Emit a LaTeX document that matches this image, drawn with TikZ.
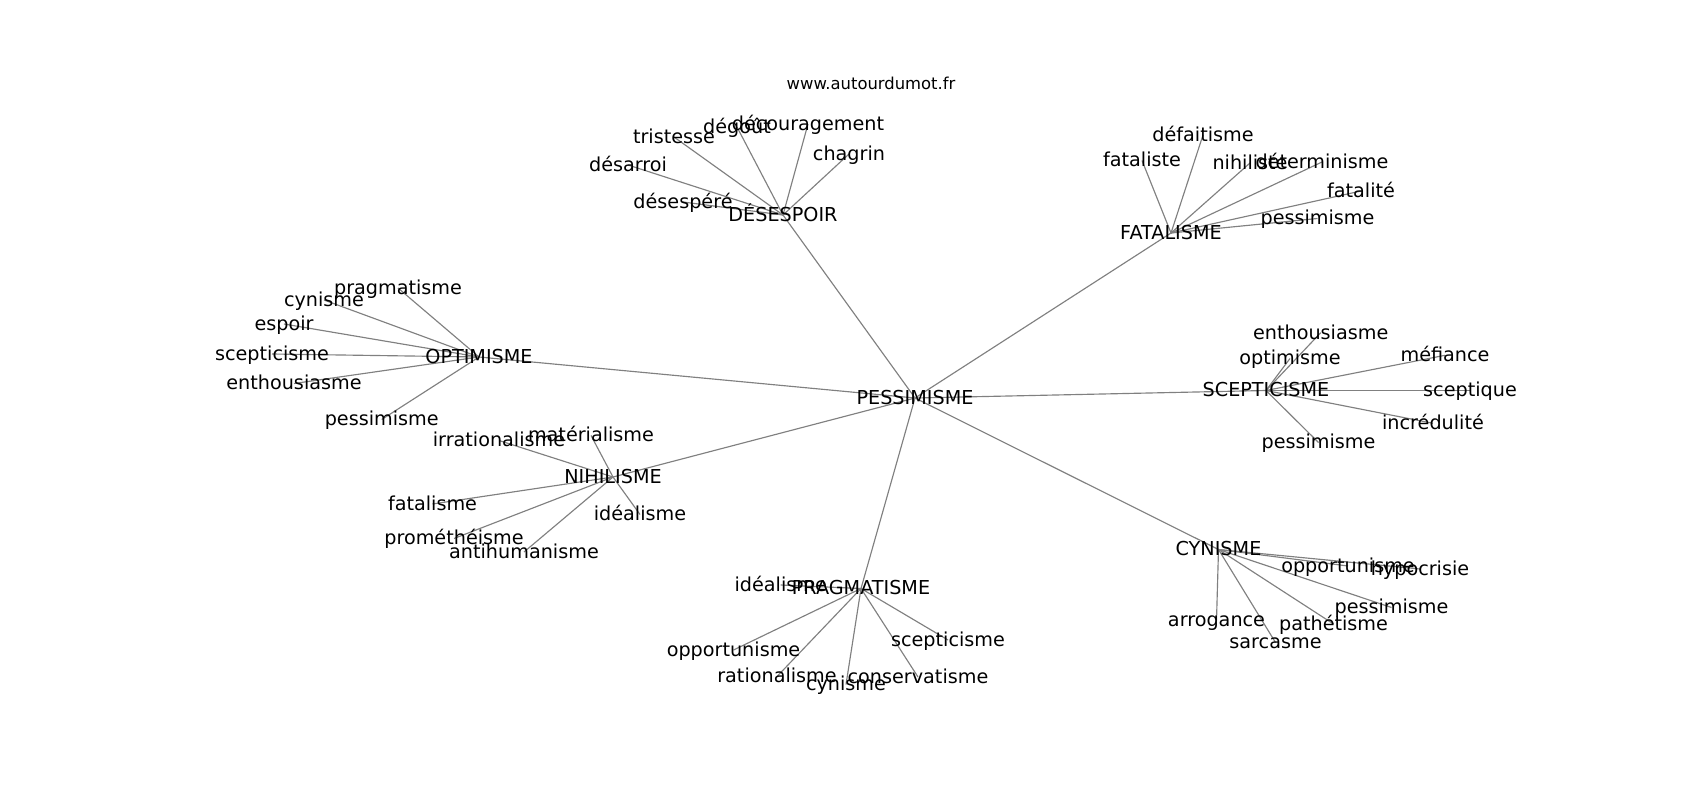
\documentclass[tikz,border=0pt]{standalone}
\usepackage{fontspec}
\setmainfont{DejaVu Sans}
\usetikzlibrary{backgrounds}
\tikzset{
  lbl/.style={inner sep=0pt, outer sep=0pt, anchor=center, text height=1.48em, text depth=0.2em, font=\fontsize{19.2}{22}\selectfont},
  ttl/.style={inner sep=0pt, anchor=center, font=\fontsize{16.4}{19}\selectfont},
  edge/.style={draw=black!50, line width=1.15pt}
}
\begin{document}
\begin{tikzpicture}[x=1pt,y=-1pt]
\useasboundingbox (0,0) rectangle (1700,800);
\node[ttl] (title) at (871,83) {www.autourdumot.fr};
% hub
\node[lbl] (pes) at (915,398) {PESSIMISME};
% DESESPOIR
\node[lbl] (des) at (783,215) {DÉSESPOIR};
\node[lbl] (d1) at (674,137) {tristesse};
\node[lbl] (d2) at (737,127) {dégoût};
\node[lbl] (d3) at (808,124) {découragement};
\node[lbl] (d4) at (849,154) {chagrin};
\node[lbl] (d5) at (628,165) {désarroi};
\node[lbl] (d6) at (683,202) {désespéré};
% FATALISME
\node[lbl] (fat) at (1171,233) {FATALISME};
\node[lbl] (f1) at (1203,135) {défaitisme};
\node[lbl] (f2) at (1142,160.5) {fataliste};
\node[lbl] (f3) at (1250,163) {nihiliste};
\node[lbl] (f4) at (1322,162) {déterminisme};
\node[lbl] (f5) at (1361,191) {fatalité};
\node[lbl] (f6) at (1317.5,218.5) {pessimisme};
% OPTIMISME
\node[lbl] (opt) at (479,357) {OPTIMISME};
\node[lbl] (o1) at (398,288) {pragmatisme};
\node[lbl] (o2) at (324,300) {cynisme};
\node[lbl] (o3) at (284,324) {espoir};
\node[lbl] (o4) at (272,354) {scepticisme};
\node[lbl] (o5) at (294,383.5) {enthousiasme};
\node[lbl] (o6) at (381.7,419.5) {pessimisme};
% NIHILISME
\node[lbl] (nih) at (613,477) {NIHILISME};
\node[lbl] (n1) at (591,435.5) {matérialisme};
\node[lbl] (n2) at (499,440.5) {irrationalisme};
\node[lbl] (n3) at (432.5,504) {fatalisme};
\node[lbl] (n4) at (454,538.5) {prométhéisme};
\node[lbl] (n5) at (524,552) {antihumanisme};
\node[lbl] (n6) at (640,514.5) {idéalisme};
% PRAGMATISME
\node[lbl] (pra) at (861,588.5) {PRAGMATISME};
\node[lbl] (p1) at (780.7,585) {idéalisme};
\node[lbl] (p2) at (733.5,650) {opportunisme};
\node[lbl] (p3) at (777,676.5) {rationalisme};
\node[lbl] (p4) at (846,684.5) {cynisme};
\node[lbl] (p5) at (918,677) {conservatisme};
\node[lbl] (p6) at (948,640) {scepticisme};
% CYNISME
\node[lbl] (cyn) at (1218.5,549.5) {CYNISME};
\node[lbl] (c1) at (1348,566) {opportunisme};
\node[lbl] (c2) at (1420,569) {hypocrisie};
\node[lbl] (c3) at (1391.5,607.5) {pessimisme};
\node[lbl] (c4) at (1333.5,624) {pathétisme};
\node[lbl] (c5) at (1216.5,620.5) {arrogance};
\node[lbl] (c6) at (1275.5,642.5) {sarcasme};
% SCEPTICISME
\node[lbl] (sce) at (1266,390.5) {SCEPTICISME};
\node[lbl] (s1) at (1320.7,332.7) {enthousiasme};
\node[lbl] (s2) at (1290,358.5) {optimisme};
\node[lbl] (s3) at (1445,355.3) {méfiance};
\node[lbl] (s4) at (1470,390.5) {sceptique};
\node[lbl] (s5) at (1433,423.3) {incrédulité};
\node[lbl] (s6) at (1318.5,442.5) {pessimisme};
\begin{scope}[on background layer]
\foreach \h in {des,fat,opt,nih,pra,cyn,sce}
  \draw[edge] (pes.center) -- (\h.center);
\foreach \l in {d1,d2,d3,d4,d5,d6} \draw[edge] (des.center) -- (\l.center);
\foreach \l in {f1,f2,f3,f4,f5,f6} \draw[edge] (fat.center) -- (\l.center);
\foreach \l in {o1,o2,o3,o4,o5,o6} \draw[edge] (opt.center) -- (\l.center);
\foreach \l in {n1,n2,n3,n4,n5,n6} \draw[edge] (nih.center) -- (\l.center);
\foreach \l in {p1,p2,p3,p4,p5,p6} \draw[edge] (pra.center) -- (\l.center);
\foreach \l in {c1,c2,c3,c4,c5,c6} \draw[edge] (cyn.center) -- (\l.center);
\foreach \l in {s1,s2,s3,s4,s5,s6} \draw[edge] (sce.center) -- (\l.center);
\end{scope}
\end{tikzpicture}
\end{document}
